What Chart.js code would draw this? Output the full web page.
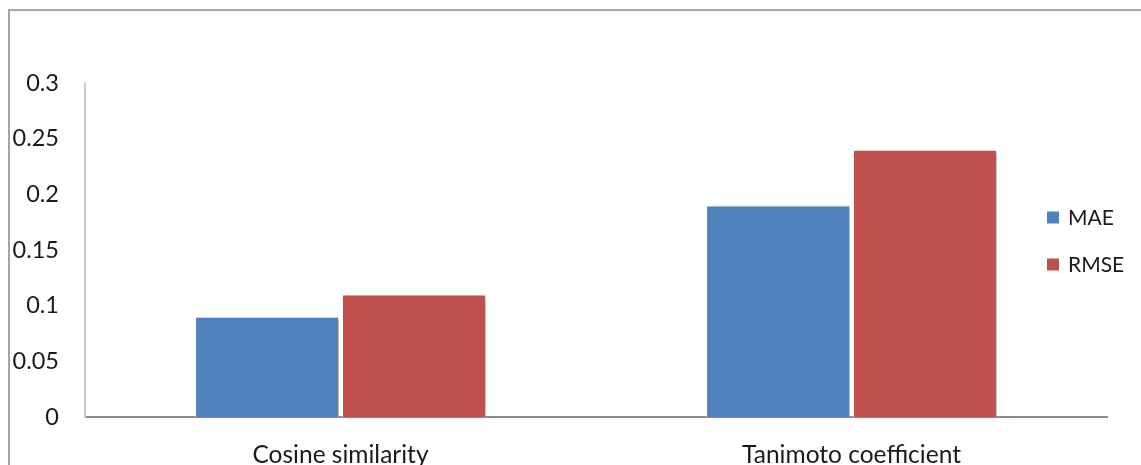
<!DOCTYPE html>
<html>
<head>
<meta charset="utf-8">
<script src="https://cdn.jsdelivr.net/npm/chart.js@4/dist/chart.umd.min.js"></script>
<style>
  html, body { margin: 0; padding: 0; background: #fff; }
  #wrap { position: relative; width: 1141px; height: 465px; overflow: hidden; }
  #frame { position: absolute; left: 8px; top: 9px; width: 1200px; height: 600px;
           border: 2px solid #a6a6a6; box-sizing: border-box; }
  canvas { position: absolute; left: 0; top: 0; }
</style>
</head>
<body>
<div id="wrap">
  <div id="frame"></div>
  <canvas id="c" width="1141" height="465"></canvas>
</div>
<script>
// Similarity measures compared by prediction error
const categories = ['Cosine similarity', 'Tanimoto coefficient'];
const maeValues  = [0.09, 0.19];
const rmseValues = [0.11, 0.24];
const yTicks     = [0, 0.05, 0.1, 0.15, 0.2, 0.25, 0.3];

const FONT = 'Lato, "Open Sans", sans-serif';
const TEXT = '#1a1a1a';

// soft drop shadow behind the bars
const barShadow = {
  id: 'barShadow',
  beforeDatasetsDraw(chart) {
    const ctx = chart.ctx;
    ctx.save();
    ctx.shadowColor = 'rgba(0,0,0,0.28)';
    ctx.shadowBlur = 3;
    ctx.shadowOffsetX = 3;
    ctx.shadowOffsetY = 1;
  },
  afterDatasetsDraw(chart) { chart.ctx.restore(); }
};

// legend drawn to the right, overlapping the plot area's spare room
const sideLegend = {
  id: 'sideLegend',
  afterDraw(chart) {
    const ctx = chart.ctx;
    const a = chart.chartArea;
    const x = a.right - 60;
    const mid = (a.top + a.bottom) / 2;
    const gap = 47;
    const n = chart.data.datasets.length;
    ctx.save();
    ctx.font = '21px ' + FONT;
    ctx.textBaseline = 'middle';
    ctx.textAlign = 'left';
    chart.data.datasets.forEach((ds, i) => {
      const y = mid - 9 + (i - (n - 1) / 2) * gap;
      ctx.fillStyle = ds.backgroundColor;
      ctx.fillRect(x, y - 6, 12, 12);
      ctx.fillStyle = TEXT;
      ctx.fillText(ds.label, x + 21, y + 1);
    });
    ctx.restore();
  }
};

new Chart(document.getElementById('c'), {
  type: 'bar',
  data: {
    labels: categories,
    datasets: [
      { label: 'MAE',  data: maeValues,  backgroundColor: '#4F81BD',
        borderColor: 'rgba(255,255,255,0.6)', borderWidth: 1,
        barPercentage: 0.98, categoryPercentage: 0.575 },
      { label: 'RMSE', data: rmseValues, backgroundColor: '#C0504D',
        borderColor: 'rgba(255,255,255,0.6)', borderWidth: 1,
        barPercentage: 0.98, categoryPercentage: 0.575 }
    ]
  },
  options: {
    responsive: false,
    animation: false,
    devicePixelRatio: 1,
    layout: { padding: { top: 83, right: 34, bottom: 0, left: 0 } },
    plugins: { legend: { display: false }, tooltip: { enabled: false } },
    scales: {
      x: {
        grid: { display: false, drawTicks: false },
        border: { display: true, color: '#8c8c8c', width: 2 },
        ticks: { color: TEXT, font: { family: FONT, size: 24.5 }, padding: 23, maxRotation: 0 },
        afterFit(s) { s.height = 48; }
      },
      y: {
        min: 0, max: 0.3,
        grid: { display: false, drawTicks: false },
        border: { display: true, color: '#cccccc', width: 2 },
        ticks: {
          color: TEXT, font: { family: FONT, size: 23.5 }, padding: 26,
          autoSkip: false,
          callback: v => String(v)
        },
        afterBuildTicks(s) { s.ticks = yTicks.map(v => ({ value: v })); },
        afterFit(s) { s.width = 85; }
      }
    }
  },
  plugins: [barShadow, sideLegend]
});
</script>
</body>
</html>
